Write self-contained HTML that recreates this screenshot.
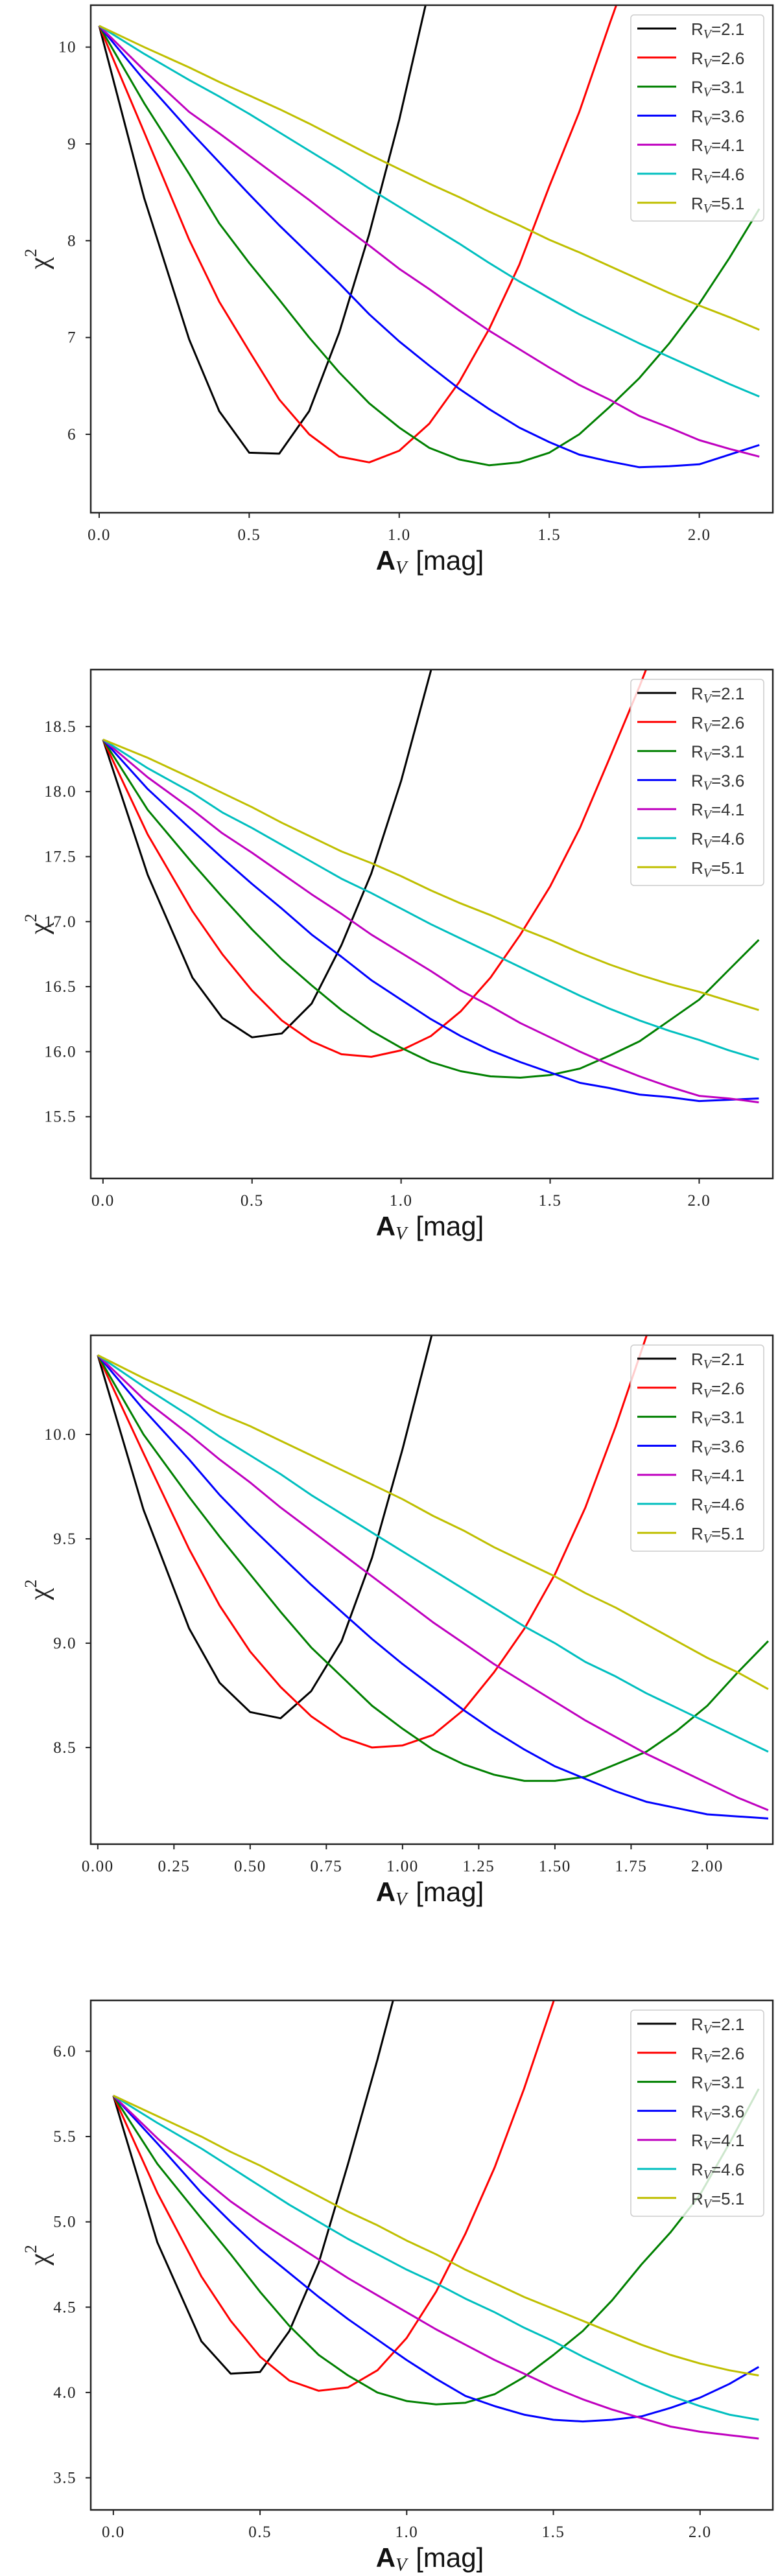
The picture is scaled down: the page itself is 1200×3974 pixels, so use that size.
<!DOCTYPE html>
<html><head><meta charset="utf-8">
<style>
html,body{margin:0;padding:0;background:#fff;}
svg{display:block;}
.tick{font-family:"Liberation Serif",serif;font-size:25px;fill:#222;letter-spacing:1.5px;}
.leg{font-family:"Liberation Sans",sans-serif;font-size:26px;fill:#333;}
.xl{font-family:"Liberation Sans",sans-serif;font-size:42px;fill:#111;}
.yl{font-family:"Liberation Serif",serif;font-size:42px;fill:#222;}
</style></head>
<body>
<svg id="fig" width="1200" height="3974" viewBox="0 0 1200 3974" xmlns="http://www.w3.org/2000/svg"></svg>
<script>
// ---- shared data ----
const avValues = [0,0.15,0.3,0.4,0.5,0.6,0.7,0.8,0.9,1.0,1.1,1.2,1.3,1.4,1.5,1.6,1.7,1.8,1.9,2.0,2.1,2.2];
const seriesLabels = ["2.1","2.6","3.1","3.6","4.1","4.6","5.1"];

// ---- panel 1 ----
const p1_rv21 = [10.22,8.44,6.98,6.24,5.81,5.80,6.24,7.05,8.07,9.25,10.6,12.0,13.5,15,16.5,18,19.5,21,22.5,24,25.5,27];
const p1_rv26 = [10.22,9.12,8.01,7.37,6.86,6.36,6.0,5.77,5.71,5.83,6.11,6.54,7.09,7.75,8.56,9.33,10.23,11.1,12.1,13.1,14.2,15.3];
const p1_rv31 = [10.22,9.42,8.69,8.18,7.77,7.39,7.0,6.64,6.32,6.07,5.86,5.74,5.68,5.71,5.81,6.0,6.28,6.58,6.94,7.35,7.82,8.33];
const p1_rv36 = [10.22,9.66,9.14,8.81,8.48,8.16,7.86,7.56,7.24,6.96,6.71,6.47,6.26,6.07,5.92,5.79,5.72,5.66,5.67,5.69,5.79,5.89];
const p1_rv41 = [10.22,9.76,9.33,9.11,8.88,8.65,8.42,8.18,7.95,7.71,7.5,7.28,7.07,6.88,6.69,6.51,6.36,6.19,6.07,5.94,5.85,5.77];
const p1_rv46 = [10.22,9.93,9.66,9.49,9.31,9.12,8.93,8.74,8.54,8.35,8.16,7.97,7.77,7.58,7.41,7.24,7.09,6.94,6.8,6.66,6.52,6.39];
const p1_rv51 = [10.22,10.0,9.79,9.64,9.5,9.36,9.21,9.05,8.89,8.74,8.59,8.45,8.3,8.16,8.01,7.88,7.74,7.6,7.46,7.33,7.21,7.08];
const p1_yTicks = [6,7,8,9,10];
const p1_yTickLabels = ["6","7","8","9","10"];
const p1_xTicks = [0,0.5,1.0,1.5,2.0];
const p1_xTickLabels = ["0.0","0.5","1.0","1.5","2.0"];

// ---- panel 2 ----
const p2_rv21 = [18.4,17.36,16.57,16.26,16.11,16.14,16.37,16.82,17.37,18.08,18.93,19.9,21,22,23,24,25,26,27,28,29,30];
const p2_rv26 = [18.4,17.67,17.08,16.75,16.47,16.24,16.08,15.98,15.96,16.01,16.12,16.31,16.57,16.9,17.27,17.72,18.26,18.81,19.4,20,20.6,21.2];
const p2_rv31 = [18.4,17.86,17.45,17.19,16.94,16.71,16.51,16.32,16.16,16.03,15.92,15.85,15.81,15.8,15.82,15.87,15.97,16.08,16.24,16.4,16.63,16.86];
const p2_rv36 = [18.4,18.02,17.7,17.49,17.29,17.1,16.9,16.73,16.55,16.4,16.25,16.12,16.01,15.92,15.84,15.76,15.72,15.67,15.65,15.62,15.63,15.64];
const p2_rv41 = [18.4,18.11,17.86,17.68,17.53,17.37,17.21,17.06,16.9,16.76,16.62,16.47,16.35,16.22,16.11,16.0,15.9,15.81,15.73,15.66,15.64,15.61];
const p2_rv46 = [18.4,18.18,17.99,17.84,17.72,17.59,17.46,17.33,17.22,17.1,16.98,16.87,16.76,16.65,16.54,16.43,16.33,16.24,16.16,16.09,16.01,15.94];
const p2_rv51 = [18.4,18.26,18.1,17.99,17.88,17.76,17.65,17.54,17.45,17.35,17.24,17.14,17.05,16.95,16.86,16.76,16.67,16.59,16.52,16.46,16.39,16.32];
const p2_yTicks = [15.5,16.0,16.5,17.0,17.5,18.0,18.5];
const p2_yTickLabels = ["15.5","16.0","16.5","17.0","17.5","18.0","18.5"];
const p2_xTicks = [0,0.5,1.0,1.5,2.0];
const p2_xTickLabels = ["0.0","0.5","1.0","1.5","2.0"];

// ---- panel 3 ----
const p3_rv21 = [10.38,9.64,9.07,8.81,8.67,8.64,8.77,9.01,9.41,9.93,10.5,11.1,11.7,12.3,12.9,13.5,14.1,14.7,15.3,15.9,16.5,17.1];
const p3_rv26 = [10.38,9.91,9.45,9.18,8.96,8.79,8.65,8.55,8.5,8.51,8.56,8.68,8.86,9.07,9.33,9.65,10.04,10.47,10.9,11.4,11.9,12.4];
const p3_rv31 = [10.38,10.0,9.7,9.51,9.33,9.15,8.98,8.84,8.7,8.59,8.49,8.42,8.37,8.34,8.34,8.36,8.42,8.48,8.58,8.7,8.86,9.01];
const p3_rv36 = [10.38,10.12,9.88,9.71,9.56,9.42,9.28,9.15,9.02,8.9,8.79,8.68,8.58,8.49,8.41,8.35,8.29,8.24,8.21,8.18,8.17,8.16];
const p3_rv41 = [10.38,10.17,10.0,9.88,9.77,9.65,9.54,9.43,9.32,9.21,9.1,9.0,8.9,8.81,8.72,8.63,8.55,8.47,8.4,8.33,8.26,8.2];
const p3_rv46 = [10.38,10.23,10.09,9.99,9.9,9.81,9.71,9.62,9.53,9.44,9.35,9.26,9.17,9.08,9.0,8.91,8.84,8.76,8.69,8.62,8.55,8.48];
const p3_rv51 = [10.38,10.27,10.17,10.1,10.04,9.97,9.9,9.83,9.76,9.69,9.61,9.54,9.46,9.39,9.32,9.24,9.17,9.09,9.01,8.93,8.86,8.78];
const p3_yTicks = [8.5,9.0,9.5,10.0];
const p3_yTickLabels = ["8.5","9.0","9.5","10.0"];
const p3_xTicks = [0,0.25,0.5,0.75,1.0,1.25,1.5,1.75,2.0];
const p3_xTickLabels = ["0.00","0.25","0.50","0.75","1.00","1.25","1.50","1.75","2.00"];

// ---- panel 4 ----
const p4_rv21 = [5.74,4.88,4.3,4.11,4.12,4.36,4.76,5.34,5.95,6.6,7.3,8,8.7,9.4,10.1,10.8,11.5,12.2,12.9,13.6,14.3,15];
const p4_rv26 = [5.74,5.17,4.68,4.42,4.21,4.07,4.01,4.03,4.13,4.32,4.59,4.93,5.32,5.78,6.29,6.8,7.3,7.8,8.3,8.8,9.3,9.8];
const p4_rv31 = [5.74,5.34,5.02,4.81,4.59,4.39,4.22,4.1,4.0,3.95,3.93,3.94,3.99,4.09,4.22,4.36,4.54,4.75,4.94,5.16,5.46,5.78];
const p4_rv36 = [5.74,5.46,5.17,5.0,4.84,4.7,4.56,4.43,4.31,4.19,4.08,3.98,3.92,3.87,3.84,3.83,3.84,3.86,3.91,3.97,4.05,4.15];
const p4_rv41 = [5.74,5.49,5.26,5.12,5.0,4.89,4.78,4.67,4.57,4.47,4.37,4.28,4.19,4.11,4.03,3.96,3.9,3.85,3.8,3.77,3.75,3.73];
const p4_rv46 = [5.74,5.58,5.43,5.32,5.21,5.1,5.0,4.9,4.81,4.72,4.64,4.55,4.47,4.38,4.3,4.21,4.13,4.05,3.98,3.92,3.87,3.84];
const p4_rv51 = [5.74,5.62,5.5,5.41,5.33,5.24,5.15,5.06,4.98,4.89,4.81,4.72,4.64,4.56,4.49,4.42,4.35,4.28,4.22,4.17,4.13,4.1];
const p4_yTicks = [3.5,4.0,4.5,5.0,5.5,6.0];
const p4_yTickLabels = ["3.5","4.0","4.5","5.0","5.5","6.0"];
const p4_xTicks = [0,0.5,1.0,1.5,2.0];
const p4_xTickLabels = ["0.0","0.5","1.0","1.5","2.0"];

// ---- layout (not data) ----
const colors = ["#000000","#ff0000","#008000","#0000ff","#bf00bf","#00bfbf","#bfbf00"];
const panels = [
  {id:1, top:8, bottom:791, xmin:-0.028, xmax:2.245, ymin:5.19, ymax:10.433,
   series:[p1_rv21,p1_rv26,p1_rv31,p1_rv36,p1_rv41,p1_rv46,p1_rv51], yT:p1_yTicks, yL:p1_yTickLabels, xT:p1_xTicks, xL:p1_xTickLabels},
  {id:2, top:1033, bottom:1818, xmin:-0.041, xmax:2.247, ymin:15.025, ymax:18.938,
   series:[p2_rv21,p2_rv26,p2_rv31,p2_rv36,p2_rv41,p2_rv46,p2_rv51], yT:p2_yTicks, yL:p2_yTickLabels, xT:p2_xTicks, xL:p2_xTickLabels},
  {id:3, top:2060, bottom:2845, xmin:-0.023, xmax:2.215, ymin:8.037, ymax:10.475,
   series:[p3_rv21,p3_rv26,p3_rv31,p3_rv36,p3_rv41,p3_rv46,p3_rv51], yT:p3_yTicks, yL:p3_yTickLabels, xT:p3_xTicks, xL:p3_xTickLabels},
  {id:4, top:3086, bottom:3872, xmin:-0.077, xmax:2.248, ymin:3.312, ymax:6.298,
   series:[p4_rv21,p4_rv26,p4_rv31,p4_rv36,p4_rv41,p4_rv46,p4_rv51], yT:p4_yTicks, yL:p4_yTickLabels, xT:p4_xTicks, xL:p4_xTickLabels}
];
const L = 140, R = 1192;
const NS = "http://www.w3.org/2000/svg";
const fig = document.getElementById("fig");
function mk(tag, attrs, parent){
  const e = document.createElementNS(NS, tag);
  for (const k in attrs) e.setAttribute(k, attrs[k]);
  (parent||fig).appendChild(e);
  return e;
}

panels.forEach(function(p){
  const g = mk("g", {});
  
  
  const xs = function(v){ return L + (v - p.xmin) / (p.xmax - p.xmin) * (R - L); };
  const ys = function(v){ return p.bottom - (v - p.ymin) / (p.ymax - p.ymin) * (p.bottom - p.top); };

  const cp = mk("clipPath", {id:"clip"+p.id}, g);
  mk("rect", {x:L, y:p.top, width:R-L, height:p.bottom-p.top}, cp);

  const lg = mk("g", {"clip-path":"url(#clip"+p.id+")"}, g);
  p.series.forEach(function(vals, si){
    const pts = vals.map(function(v,i){ return xs(avValues[i]).toFixed(1)+","+ys(v).toFixed(1); }).join(" ");
    const pl = mk("polyline", {points:pts, fill:"none", stroke:colors[si], "stroke-width":3, "stroke-linejoin":"round"}, lg);
    
    
  });

  const fr = mk("rect", {x:L, y:p.top, width:R-L, height:p.bottom-p.top, fill:"none", stroke:"#222", "stroke-width":2.5}, g);
  
  

  p.yT.forEach(function(v,i){
    const y = ys(v);
    mk("line", {x1:L-8, x2:L, y1:y, y2:y, stroke:"#222", "stroke-width":2}, g);
    const t = mk("text", {x:L-22, y:y+8, "text-anchor":"end", class:"tick"}, g);
    t.textContent = p.yL[i];
    
    
  });
  p.xT.forEach(function(v,i){
    const x = xs(v);
    mk("line", {x1:x, x2:x, y1:p.bottom, y2:p.bottom+8, stroke:"#222", "stroke-width":2}, g);
    const t = mk("text", {x:x, y:p.bottom+42, "text-anchor":"middle", class:"tick"}, g);
    t.textContent = p.xL[i];
    
    
  });

  const xl = mk("text", {x:663, y:p.bottom+88, "text-anchor":"middle", class:"xl"}, g);
  
  
  const a = mk("tspan", {"font-weight":"bold"}, xl); a.textContent = "A";
  const vsub = mk("tspan", {"font-family":"Liberation Serif, serif", "font-style":"italic", "font-size":"28", dy:"6"}, xl); vsub.textContent = "V";
  const mg = mk("tspan", {dy:"-6", dx:"14"}, xl); mg.textContent = "[mag]";

  const cy = (p.top + p.bottom) / 2;
  const yl = mk("text", {x:0, y:0, "text-anchor":"middle", class:"yl", transform:"translate(74,"+cy+") rotate(-90)"}, g);
  
  
  const chi = mk("tspan", {}, yl); chi.textContent = "χ";
  const sup = mk("tspan", {"font-size":"26", dy:"-18"}, yl); sup.textContent = "2";

  const lgd = mk("g", {}, g);
  
  
  const bt = p.top + 15;
  mk("rect", {x:973, y:bt, width:205, height:318, rx:5, fill:"#fff", "fill-opacity":0.8, stroke:"#ccc", "stroke-width":1.5}, lgd);
  seriesLabels.forEach(function(lab, i){
    const y = bt + 21 + i*44.8;
    const e = mk("g", {}, lgd);
    
    
    mk("line", {x1:983, x2:1043, y1:y, y2:y, stroke:colors[i], "stroke-width":3}, e);
    const t = mk("text", {x:1066, y:y+10, class:"leg"}, e);
    const r = mk("tspan", {}, t); r.textContent = "R";
    const s = mk("tspan", {"font-family":"Liberation Serif, serif", "font-style":"italic", "font-size":"20", dy:"5"}, t); s.textContent = "V";
    const q = mk("tspan", {dy:"-5"}, t); q.textContent = "=" + lab;
  });
});
</script>
</body></html>
